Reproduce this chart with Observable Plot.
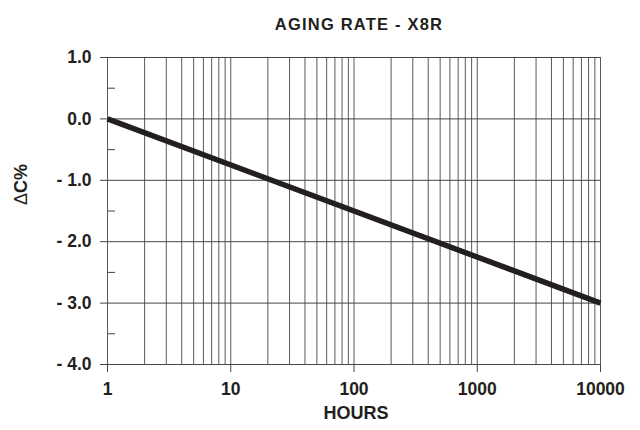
<!DOCTYPE html>
<html>
<head>
<meta charset="utf-8">
<script src="https://cdn.jsdelivr.net/npm/d3@7"></script>
<script src="https://cdn.jsdelivr.net/npm/@observablehq/plot@0.6"></script>
<style>
  html, body { margin: 0; padding: 0; background: #fff; }
  #chart svg { display: block; }
</style>
</head>
<body>
<div id="chart"></div>
<script>
// Data
const hours = [1, 10000];
const deltaC = [0, -3];
const xTicks = [1, 10, 100, 1000, 10000];
const yTicks = [-4, -3, -2, -1, 0, 1];
const yHalfTicks = [-3.5, -2.5, -1.5, -0.5, 0.5];
const gridMultipliers = [1, 2, 3, 4, 5, 6, 7, 8, 9];
const decades = [1, 10, 100, 1000];
const titleText = "AGING RATE - X8R";
const xLabel = "HOURS";
const yLabel = "ΔC%";

const xGrid = decades.flatMap(d => gridMultipliers.map(m => d * m)).concat([10000]);
const line = hours.map((h, i) => ({hours: h, delta: deltaC[i]}));

const ink = "#231f20";
const font = "Liberation Sans, Arial, Helvetica, sans-serif";

const yFmt = d => d < 0 ? "- " + Math.abs(d).toFixed(1) : d.toFixed(1);

const chart = Plot.plot({
  width: 640,
  height: 430,
  marginLeft: 107,
  marginRight: 40,
  marginTop: 57,
  marginBottom: 66,
  style: {fontFamily: font, color: ink, background: "#fff"},
  x: {type: "log", domain: [1, 10000]},
  y: {domain: [-4, 1]},
  marks: [
    Plot.ruleX(xGrid, {stroke: "#5a5a5a", strokeWidth: 1, strokeOpacity: 1}),
    Plot.ruleY(yTicks, {stroke: "#444", strokeWidth: 1, strokeOpacity: 1}),
    Plot.axisY(yTicks, {
      tickSize: 7, tickPadding: 9, tickFormat: yFmt,
      fontSize: 17.5, fontWeight: "bold", stroke: "#444", fill: ink,
      label: null
    }),
    Plot.axisY(yHalfTicks, {
      tickSize: -8, tickFormat: () => "", stroke: "#444", label: null
    }),
    Plot.axisX(xTicks, {
      tickSize: 8, tickPadding: 10, tickFormat: d3.format("d"),
      fontSize: 17.5, fontWeight: "bold", stroke: "#444", fill: ink,
      label: null
    }),
    Plot.text([xLabel], {
      frameAnchor: "bottom", dy: 54, dx: 2, text: d => d,
      fontSize: 18, fontWeight: "bold", fill: ink
    }),
    Plot.text([yLabel], {
      frameAnchor: "left", dx: -86, dy: -6, rotate: -90, text: d => d,
      fontSize: 18, fontWeight: "bold", fill: ink
    }),
    Plot.text([titleText], {
      frameAnchor: "top", dx: 5, dy: -39.5, text: d => d,
      fontSize: 16.5, fontWeight: "bold", fill: ink
    }),
    Plot.line(line, {x: "hours", y: "delta", stroke: ink, strokeWidth: 5.5, strokeLinecap: "butt"})
  ]
});

document.getElementById("chart").appendChild(chart);

// make the delta symbol regular weight and widen the title as in the original
d3.select(chart).selectAll("text").each(function() {
  if (this.textContent === yLabel) {
    const t = d3.select(this);
    t.text(null);
    t.append("tspan").attr("font-weight", "normal").text("Δ");
    t.append("tspan").text("C%");
  } else if (this.textContent === titleText) {
    d3.select(this).attr("letter-spacing", "1.2px");
  }
});
</script>
</body>
</html>
